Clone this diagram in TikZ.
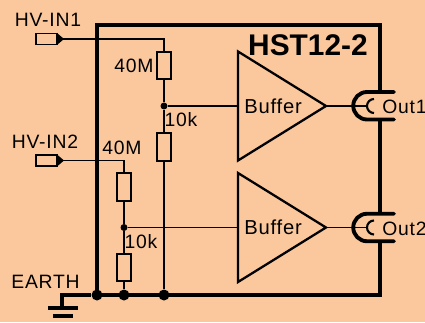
\documentclass[tikz,border=0pt]{standalone}
\usepackage{fontspec}
\setmainfont[LetterSpace=4]{Liberation Sans}
\usetikzlibrary{shapes.geometric}
\definecolor{peach}{RGB}{251,200,157}
\tikzset{
    wire/.style={line width=0.9pt},
    heavy/.style={line width=2.2pt},
    resistor/.style={draw, line width=0.9pt, minimum width=0.28cm, minimum height=0.55cm, inner sep=0, outer sep=0},
    port/.style={draw, line width=1pt, minimum width=0.42cm, minimum height=0.22cm, inner sep=0, outer sep=0},
    buffer/.style={draw, line width=1.3pt, isosceles triangle, isosceles triangle stretches, minimum width=2.18cm, minimum height=1.76cm, inner sep=0, outer sep=0, anchor=lower side, font=\fontsize{11.5}{11.5}\selectfont},
    tap/.style={circle, fill=black, minimum size=0.14cm, inner sep=0},
    bigtap/.style={circle, fill=black, minimum size=0.22cm, inner sep=0},
    label/.style={font=\fontsize{11}{11}\selectfont, inner sep=0}
}
\begin{document}
\begin{tikzpicture}
    \useasboundingbox (0, 0) rectangle (8.5, 6.44);

    \fill[peach] (0, 0) rectangle (8.5, 6.44);

    \draw[heavy] (7.6, 4.6) -- (7.6, 5.94) -- (1.94, 5.94) -- (1.94, 0.54) -- (7.6, 0.54) -- (7.6, 1.62);

    \draw[heavy] (7.6, 4.05) -- (7.6, 2.17);

    \node[port] (port1) at (0.93, 5.66) {};
    \node[port] (port2) at (0.93, 3.23) {};

    \fill (1.14, 5.78) -- (1.28, 5.66) -- (1.14, 5.54) -- cycle;
    \fill (1.14, 3.35) -- (1.28, 3.23) -- (1.14, 3.11) -- cycle;

    \node[resistor] (r1) at (3.28, 5.13) {};
    \node[resistor] (r2) at (3.28, 3.5) {};
    \node[resistor] (r3) at (2.48, 2.7) {};
    \node[resistor] (r4) at (2.48, 1.09) {};

    \node[tap] (tap1) at (3.28, 4.32) {};
    \node[tap] (tap2) at (2.48, 1.89) {};

    \node[bigtap] (gnd1) at (1.94, 0.54) {};
    \node[bigtap] (gnd2) at (2.48, 0.54) {};
    \node[bigtap] (gnd3) at (3.28, 0.54) {};

    \node[buffer] (buf1) at (4.76, 4.32) {Buffer};
    \node[buffer] (buf2) at (4.76, 1.89) {Buffer};

    \draw[wire] (port1.east) -| (r1.north);
    \draw[wire] (r1.south) -- (tap1) -- (r2.north);
    \draw[wire] (r2.south) -- (gnd3);

    \draw[wire] (port2.east) -| (r3.north);
    \draw[wire] (r3.south) -- (tap2) -- (r4.north);
    \draw[wire] (r4.south) -- (gnd2);

    \draw[wire] (tap1) -- (buf1.lower side);
    \draw[wire] (tap2) -- (buf2.lower side);

    \coordinate (out1) at (7.34, 4.32);
    \coordinate (out2) at (7.34, 1.89);

    \draw[wire] (buf1.apex) -- (out1);
    \draw[wire] (buf2.apex) -- (out2);

    \draw[heavy, line cap=round] (7.88, 4.6) -- (7.34, 4.6) arc[radius=0.275, start angle=90, end angle=270] -- (7.88, 4.05);
    \draw[heavy, line cap=round] (7.88, 2.165) -- (7.34, 2.165) arc[radius=0.275, start angle=90, end angle=270] -- (7.88, 1.615);

    \draw[line width=1.2pt] (7.48, 4.46) arc[radius=0.14, start angle=90, end angle=270];
    \draw[line width=1.2pt] (7.48, 2.03) arc[radius=0.14, start angle=90, end angle=270];

    \coordinate (earth) at (1.24, 0.28);

    \draw[heavy] (gnd1) -| (earth);
    \draw[heavy] (0.96, 0.28) -- (1.56, 0.28);
    \draw[heavy] (1.06, 0.12) -- (1.46, 0.12);

    \node[label] (in1) at (0.96, 6.04) {HV-IN1};
    \node[label] (in2) at (0.9, 3.6) {HV-IN2};
    \node[label] (val1) at (2.68, 5.12) {40M};
    \node[label] (val2) at (3.62, 4.04) {10k};
    \node[label] (val3) at (2.44, 3.48) {40M};
    \node[label] (val4) at (2.82, 1.6) {10k};
    \node[label] (gnd) at (0.91, 0.8) {EARTH};
    \node[label] (lab1) at (8.09, 4.3) {Out1};
    \node[label] (lab2) at (8.09, 1.87) {Out2};
    \node[font=\fontsize{17}{17}\selectfont\bfseries\addfontfeatures{LetterSpace=0}, inner sep=0] (title) at (6.16, 5.54) {HST12-2};
\end{tikzpicture}
\end{document}
